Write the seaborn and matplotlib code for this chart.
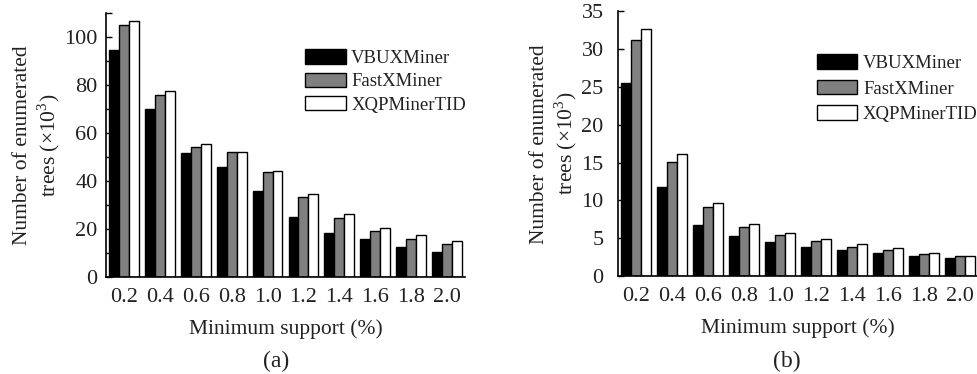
import numpy as np
import pandas as pd
import matplotlib
matplotlib.use("Agg")
import matplotlib.pyplot as plt
import seaborn as sns
from matplotlib.ticker import MultipleLocator

supports = ["0.2", "0.4", "0.6", "0.8", "1.0", "1.2", "1.4", "1.6", "1.8", "2.0"]
methods = ["VBUXMiner", "FastXMiner", "XQPMinerTID"]

# Panel (a)
a_vbux = [94.7, 70.1, 51.8, 45.8, 36.0, 24.9, 18.2, 15.7, 12.6, 10.4]
a_fast = [104.9, 75.8, 54.2, 52.0, 43.6, 33.2, 24.7, 19.3, 15.7, 13.7]
a_xqp = [106.5, 77.5, 55.4, 52.0, 44.0, 34.7, 26.4, 20.3, 17.4, 15.0]

# Panel (b)
b_vbux = [25.5, 11.8, 6.7, 5.3, 4.5, 3.9, 3.4, 3.0, 2.6, 2.4]
b_fast = [31.2, 15.1, 9.1, 6.5, 5.4, 4.6, 3.9, 3.5, 2.9, 2.6]
b_xqp = [32.7, 16.1, 9.6, 6.9, 5.7, 4.9, 4.2, 3.7, 3.1, 2.7]

sns.set_theme(style="ticks")
plt.rcParams["font.family"] = ["Liberation Serif", "DejaVu Serif"]
plt.rcParams["mathtext.fontset"] = "custom"
plt.rcParams["mathtext.rm"] = "Liberation Serif"

TICK_FS = 16
LABEL_FS = 15.5
LEG_FS = 13.5
CAP_FS = 17
TXT = "#222222"
colors = ["#000000", "#808080", "#ffffff"]


def long_df(v, f, x):
    rows = []
    for m, vals in zip(methods, [v, f, x]):
        for s, val in zip(supports, vals):
            rows.append({"support": s, "count": val, "method": m})
    return pd.DataFrame(rows)


fig = plt.figure(figsize=(9.78, 3.74), dpi=100)
W, H = 978, 374


def add_ax(x0, x1, ytop, ybot):
    return fig.add_axes([x0 / W, 1 - ybot / H, (x1 - x0) / W, (ybot - ytop) / H])


ax1 = add_ax(106, 465, 13, 277)
ax2 = add_ax(618, 978, 11.5, 276)

panels = [
    (ax1, long_df(a_vbux, a_fast, a_xqp), 110, 20, 10, (0.555, 0.862), 0.3, 6, 1.8),
    (ax2, long_df(b_vbux, b_fast, b_xqp), 35, 5, None, (0.553, 0.838), 0.42, 10.3, 1.7),
]

for ax, df, ymax, major, minor, legpos, lsp, ypad, ylabpad in panels:
    sns.barplot(data=df, x="support", y="count", hue="method",
                order=supports, hue_order=methods, palette=colors,
                saturation=1, edgecolor="black", linewidth=1.0,
                width=0.83, gap=0, ax=ax, errorbar=None)
    ax.set_xlim(-0.5, 9.5)
    ax.set_ylim(0, ymax)
    ax.yaxis.set_major_locator(MultipleLocator(major))
    if minor:
        ax.yaxis.set_minor_locator(MultipleLocator(minor))
        ax.tick_params(axis="y", which="minor", direction="in", length=4, width=1, color="black")
    ax.tick_params(axis="both", which="major", direction="in", length=4, width=1,
                   color="black", labelsize=TICK_FS, labelcolor=TXT)
    ax.tick_params(axis="x", which="major", pad=8)
    ax.tick_params(axis="y", which="major", pad=ypad)
    ax.set_xlabel("Minimum support (%)", fontsize=LABEL_FS, color=TXT, labelpad=8.5)
    ax.set_ylabel("Number of enumerated\ntrees (×10$^3$)", fontsize=LABEL_FS,
                  color=TXT, labelpad=ylabpad, linespacing=1.15)
    for s in ["top", "right"]:
        ax.spines[s].set_visible(False)
    for s in ["left", "bottom"]:
        ax.spines[s].set_color("black")
        ax.spines[s].set_linewidth(1.2)
    ax.set_facecolor("white")
    leg = ax.legend(loc="upper left", bbox_to_anchor=legpos, frameon=False,
                    fontsize=LEG_FS, handlelength=2.15, handleheight=0.8,
                    handletextpad=0.3, labelspacing=lsp, borderpad=0,
                    borderaxespad=0)
    for t in leg.get_texts():
        t.set_color(TXT)

fig.text(276 / W, 1 - 361 / H, "(a)", ha="center", va="center", fontsize=CAP_FS, color=TXT)
fig.text(787 / W, 1 - 361 / H, "(b)", ha="center", va="center", fontsize=CAP_FS, color=TXT)

fig.savefig("out.png", dpi=100, facecolor="white")
